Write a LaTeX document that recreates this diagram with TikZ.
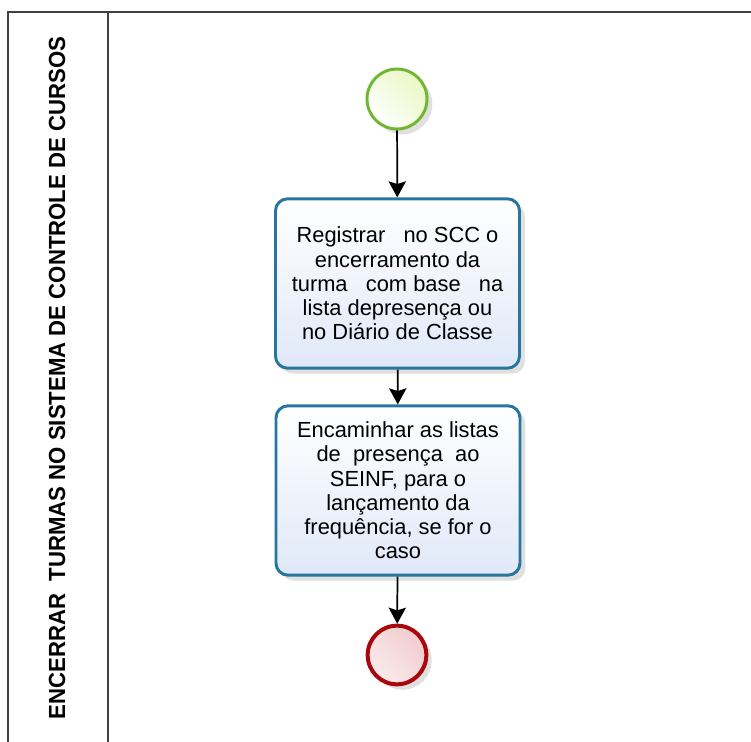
\documentclass[tikz,border=0pt]{standalone}
\usepackage{fontspec}
\setmainfont{Liberation Sans}
\usepackage{tikz}
\usetikzlibrary{arrows.meta,shadows}
\usepackage{xcolor}
\definecolor{taskblue}{RGB}{38,118,158}
\definecolor{taskfill}{RGB}{224,232,248}
\definecolor{startgreen}{RGB}{112,182,48}
\definecolor{startfill}{RGB}{234,248,196}
\definecolor{endred}{RGB}{168,8,12}
\definecolor{endfill}{RGB}{242,204,206}
\definecolor{lanegray}{RGB}{64,64,64}

\begin{document}
\begin{tikzpicture}[x=0.75pt,y=-0.75pt,
  soft/.style={drop shadow={fill=black,opacity=0.12,shadow xshift=4pt,shadow yshift=-4pt}},
  task/.style={soft,draw=taskblue,line width=2.2pt,rounded corners=9pt,
    top color=white,bottom color=taskfill,minimum width=183pt,minimum height=127pt,
    align=center,inner sep=2pt,font=\fontsize{16.4}{18.2}\selectfont},
  startev/.style={soft,circle,draw=startgreen,line width=2.2pt,minimum size=45pt,inner sep=0pt,
    left color=white,right color=startfill,shading angle=135},
  endev/.style={soft,circle,draw=endred,line width=3pt,minimum size=44pt,inner sep=0pt,
    left color=white!60!endfill,right color=endfill,shading angle=135},
  flow/.style={line width=1.3pt,-{Stealth[length=12pt,width=13pt,inset=2pt]}}]
\useasboundingbox (0,0) rectangle (751,742);
% Lane
\draw[lanegray,line width=1.5pt] (751,12) -- (8,12) -- (8,742);
\draw[lanegray,line width=1.5pt] (108,12) -- (108,742);
\node[rotate=90,font=\bfseries\fontsize{17.5}{20}\selectfont] (lanelabel) at (57,378)
  {\scalebox{0.95}[1]{ENCERRAR\ \ TURMAS NO SISTEMA DE CONTROLE DE CURSOS}};
% Events
\node[startev] (start) at (397,99) {};
\node[endev] (stop) at (397,655) {};
% Tasks
\node[task] (registrar) at (397.5,283.5)
  {Registrar\ \ \ no SCC o\\ encerramento da\\ turma\ \ \ com base\ \ \ na\\ lista depresença ou\\ no Diário de Classe};
\node[task] (encaminhar) at (398,490.5)
  {Encaminhar as listas\\ de\ \ presença\ \ ao\\ SEINF, para o\\ lançamento da\\ frequência, se for o\\ caso};
% Flow
\draw[flow] (start) -- (registrar);
\draw[flow] (registrar) -- (encaminhar);
\draw[flow] (encaminhar) -- (stop);
\end{tikzpicture}
\end{document}
